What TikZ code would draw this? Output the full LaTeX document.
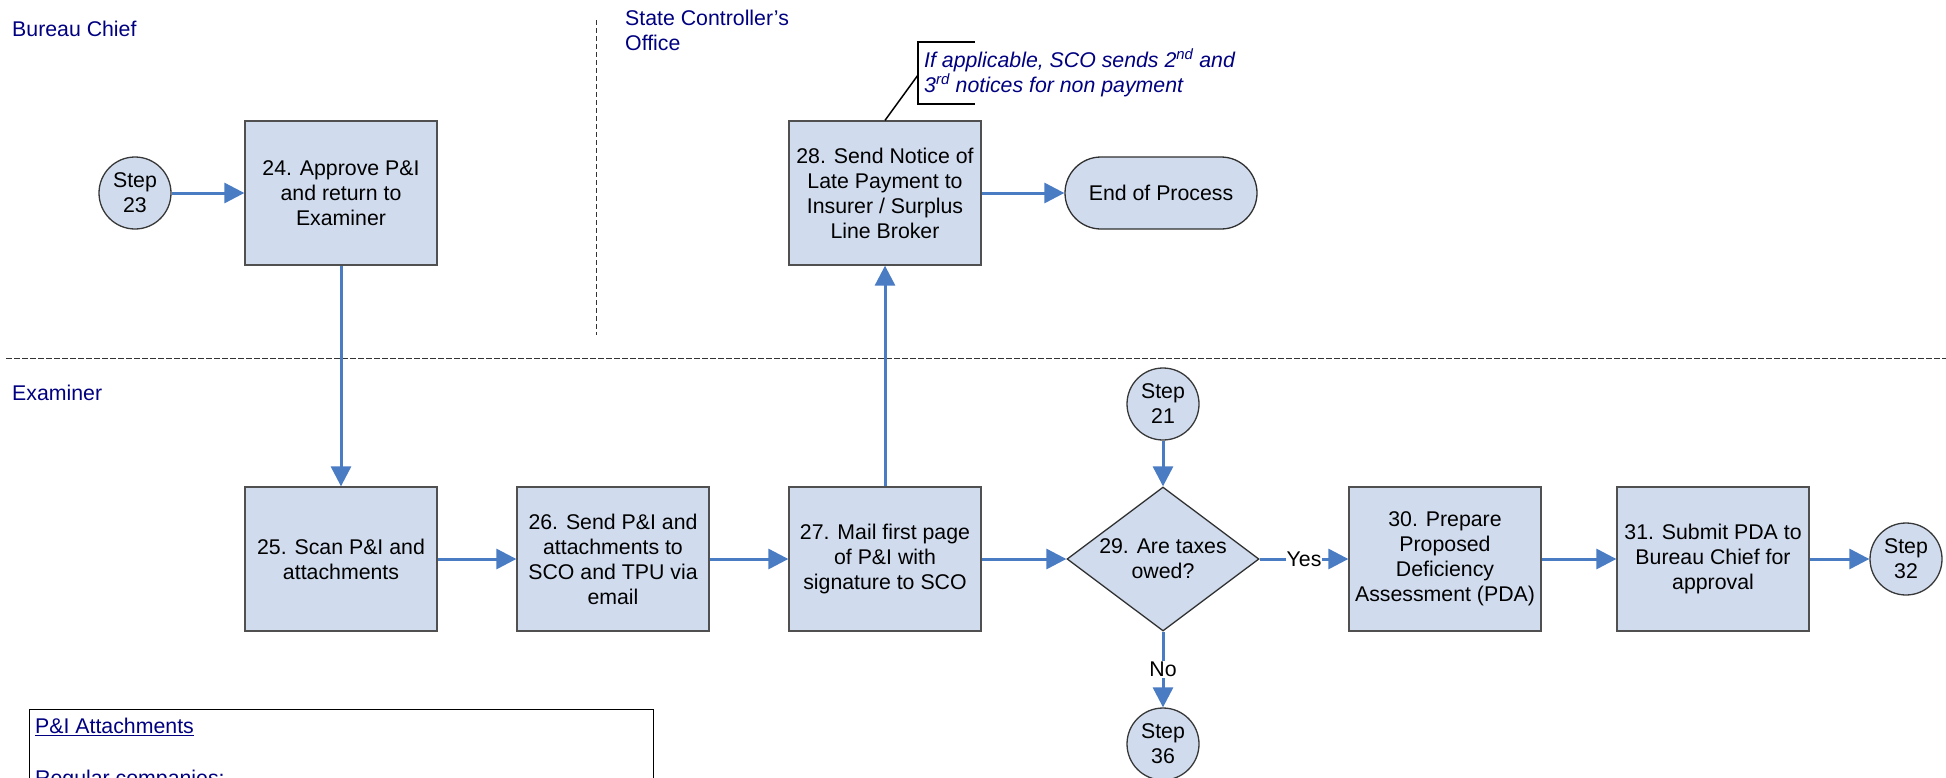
\documentclass[tikz,border=0pt]{standalone}
\usepackage{fontspec}
\setmainfont{Liberation Sans}
\usetikzlibrary{arrows.meta,shapes.geometric}
\definecolor{boxfill}{RGB}{208,220,238}
\definecolor{boxline}{RGB}{80,80,80}
\definecolor{flow}{RGB}{74,124,196}
\definecolor{lane}{RGB}{0,0,128}
\tikzset{
  fs/.style={font=\fontsize{21.3}{25}\selectfont},
  proc/.style={draw=boxline, line width=1.3pt, fill=boxfill, minimum width=192pt, minimum height=144pt, inner sep=0pt, align=center, fs},
  stepc/.style={circle, draw=boxline!70!black, line width=1.3pt, fill=boxfill, minimum size=72pt, inner sep=0pt, align=center, fs},
  term/.style={draw=boxline!60!black, line width=1.3pt, fill=boxfill, rounded corners=36pt, minimum width=192pt, minimum height=72pt, inner sep=0pt, align=center, fs},
  decis/.style={diamond, draw=boxline!60!black, line width=1.3pt, fill=boxfill, minimum width=192pt, minimum height=144pt, inner sep=0pt},
  flowarrow/.style={draw=flow, line width=3pt, -{Triangle[length=20pt,width=20pt]}},
  lanelabel/.style={text=lane, fs, anchor=west, inner sep=0pt, align=left},
  sep/.style={draw=black!80, line width=1pt},
  flowlabel/.style={fill=white, inner sep=1pt, fs}
}
\begin{document}
\begin{tikzpicture}[x=1pt,y=-1pt]
\useasboundingbox (0,0) rectangle (1946,777);
\clip (0,0) rectangle (1946,777);

% lane separators
\draw[sep, dash pattern=on 5pt off 3pt] (596,20) -- (596,335);
\draw[sep, dash pattern=on 5.5pt off 2.5pt] (6,358) -- (1946,358);

% lane labels
\node[lanelabel] (lbc) at (12,29) {Bureau Chief};
\node[lanelabel] (lsco) at (625,30.5) {State Controller’s\\Office};
\node[lanelabel] (lex) at (12,393) {Examiner};

% nodes
\node[stepc] (s23) at (135,193) {Step\\23};
\node[proc] (b24) at (341,193) {24. Approve P\&I\\and return to\\Examiner};
\node[proc] (b28) at (885,193) {28. Send Notice of\\Late Payment to\\Insurer / Surplus\\Line Broker};
\node[term] (end) at (1161,193) {End of Process};

\node[proc] (b25) at (341,559) {25. Scan P\&I and\\attachments};
\node[proc] (b26) at (613,559) {26. Send P\&I and\\attachments to\\SCO and TPU via\\email};
\node[proc] (b27) at (885,559) {27. Mail first page\\of P\&I with\\signature to SCO};
\node[decis, label={[fs, align=center]center:29. Are taxes\\owed?}] (d29) at (1163,559) {};
\node[proc] (b30) at (1445,559) {30. Prepare\\Proposed\\Deficiency\\Assessment (PDA)};
\node[proc] (b31) at (1713,559) {31. Submit PDA to\\Bureau Chief for\\approval};
\node[stepc] (s32) at (1906,559) {Step\\32};
\node[stepc] (s21) at (1163,404) {Step\\21};
\node[stepc] (s36) at (1163,744) {Step\\36};

% callout
\coordinate (calltip) at (918,75);
\draw[black, line width=1.5pt] (975,42) -- (918,42) -- (918,104) -- (975,104);
\draw[black, line width=1.5pt] (b28.north) -- (calltip);
\node[fs, text=lane, anchor=west, align=left, inner sep=0pt, font=\fontsize{21.3}{25}\selectfont\itshape] (callt) at (924,73)
  {If applicable, SCO sends 2\textsuperscript{nd} and\\3\textsuperscript{rd} notices for non payment};

% connectors
\draw[flowarrow] (s23) -- (b24);
\draw[flowarrow] (b24) -- (b25);
\draw[flowarrow] (b25) -- (b26);
\draw[flowarrow] (b26) -- (b27);
\draw[flowarrow] (b27) -- (d29);
\draw[flowarrow] (b27) -- (b28);
\draw[flowarrow] (b28) -- (end);
\draw[flowarrow] (s21) -- (d29);
\draw[flowarrow] (d29) -- node[flowlabel] {Yes} (b30);
\draw[flowarrow] (d29) -- node[flowlabel] {No} (s36);
\draw[flowarrow] (b30) -- (b31);
\draw[flowarrow] (b31) -- (s32);

% P&I attachments box
\node[draw=black, line width=1.3pt, minimum width=624pt, minimum height=120pt, anchor=north west, inner sep=0pt] (att) at (29,709) {};
\node[fs, text=lane, anchor=west, inner sep=0pt] (att1) at (35,727) {\underline{P\&I Attachments}};
\node[fs, text=lane, anchor=west, inner sep=0pt] (att2) at (35,780) {Regular companies:};
\end{tikzpicture}
\end{document}
